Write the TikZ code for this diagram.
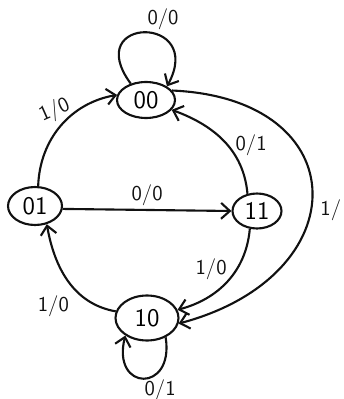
\documentclass[tikz,border=0pt]{standalone}
\usepackage{tikz}
\usetikzlibrary{arrows.meta, shapes.geometric}
\definecolor{penblack}{HTML}{111111}

\begin{document}
\begin{tikzpicture}[x=0.02cm, y=-0.02cm,
    state/.style={draw=penblack, ellipse, line width=1.2pt, inner sep=0pt,
                  font=\sffamily\Large},
    trans/.style={penblack, line width=1.2pt,
                  -{Straight Barb[length=5pt, width=9pt]}},
    lbl/.style={font=\sffamily\large, penblack, inner sep=2pt}]
  \useasboundingbox (0,0) rectangle (343,399);

  % states
  \node[state, minimum width=1.16cm, minimum height=0.72cm] (s00) at (146,100) {00};
  \node[state, minimum width=1.08cm, minimum height=0.76cm] (s01) at (35,206) {01};
  \node[state, minimum width=0.98cm, minimum height=0.70cm] (s11) at (257,211) {11};
  \node[state, minimum width=1.26cm, minimum height=0.90cm] (s10) at (147,318) {10};

  % self loops
  \draw[trans] (s00.133) .. controls +(-50,-68) and +(39,-72) ..
    node[lbl, above right=-1pt] (l00) {0/0} (s00.33);
  \draw[trans] (s10.-46) .. controls +(9,56) and +(-14,56) ..
    node[lbl, below right=-2pt] (l10) {0/1} (s10.-141);

  % transitions
  \draw[trans] (s01.81) to[out=88, in=190]
    node[lbl, pos=0.5, above=1pt, rotate=24] (l0100) {1/0} (s00.170);
  \draw[trans] (s11.119) to[out=95, in=-20]
    node[lbl, pos=0.45, right=2pt] (l1100) {0/1} (s00.-21);
  \draw[trans] (s01.-6) -- node[lbl, above] (l0111) {0/0} (s11.west);
  \draw[trans] (s11.-112) to[out=-95, in=15]
    node[lbl, pos=0.5, above left=-2pt] (l1110) {1/0} (s10.15);
  \draw[trans] (s00.20) .. controls +(185,8) and +(180,-48) ..
    node[lbl, pos=0.56, right=3pt] (l0010) {1/} (s10.-10);
  \draw[trans] (s10.168) to[out=170, in=-80]
    node[lbl, pos=0.4, below left=1pt] (l1001) {1/0} (s01.-57);
\end{tikzpicture}
\end{document}
